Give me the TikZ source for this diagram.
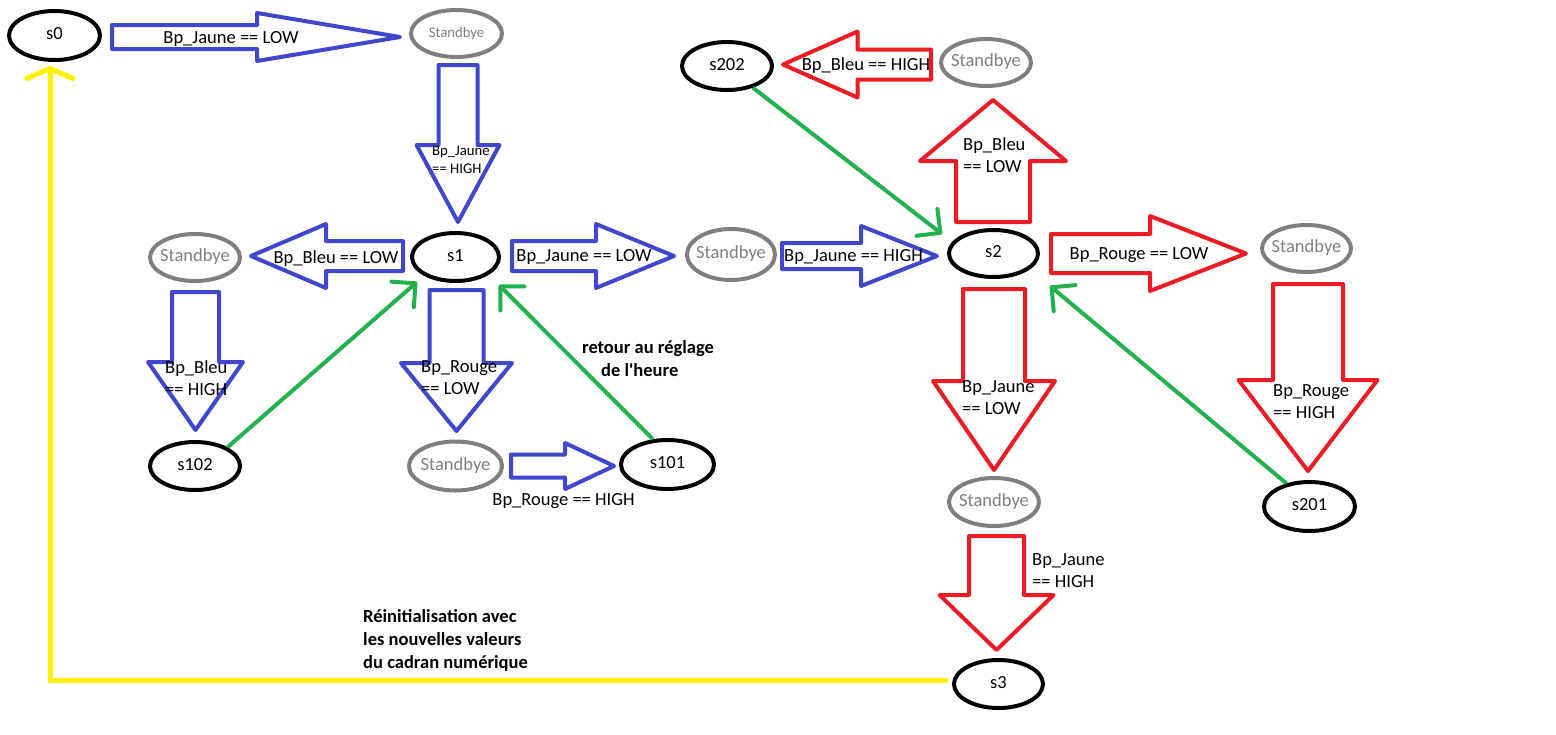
\documentclass[tikz,border=0pt]{standalone}
\usepackage{fontspec}
\setmainfont{Carlito}
\usetikzlibrary{shapes.geometric,arrows.meta}

\definecolor{ink}{HTML}{3F48CC}
\definecolor{alarm}{HTML}{ED1C24}
\definecolor{leaf}{HTML}{22B14C}
\definecolor{sun}{HTML}{FFF200}
\definecolor{ash}{HTML}{7F7F7F}

\newcommand\fsNormal{\fontsize{18.5}{22.5}\selectfont}
\newcommand\fsSmall{\fontsize{14.7}{18}\selectfont}
\newcommand\fsBold{\fontsize{18.5}{23}\selectfont\bfseries}
% state text that does not widen its ellipse
\newcommand\ctr[1]{\makebox[0pt]{#1}}

% horizontal block arrow: style, tail x, head base x, tip x, axis y, body half width, head half width
\newcommand\harrow[7]{\draw[#1] (#2,{#5-#6}) -- (#3,{#5-#6}) -- (#3,{#5-#7}) -- (#4,#5)
  -- (#3,{#5+#7}) -- (#3,{#5+#6}) -- (#2,{#5+#6}) -- cycle;}
% vertical block arrow: style, tail y, head base y, tip y, axis x, body half width, head half width
\newcommand\varrow[7]{\draw[#1] ({#5-#6},#2) -- ({#5-#6},#3) -- ({#5-#7},#3) -- (#5,#4)
  -- ({#5+#7},#3) -- ({#5+#6},#3) -- ({#5+#6},#2) -- cycle;}

\begin{document}
\begin{tikzpicture}[x=1pt,y=-1pt,
  state/.style={ellipse, draw=black, line width=4pt, inner sep=0pt,
    text height=0.8em, text depth=0pt, font=\fsNormal},
  idle/.style={state, draw=ash, text=ash},
  pblock/.style={draw=ink, line width=4pt, line join=round},
  rblock/.style={draw=alarm, line width=4pt, line join=round},
  lbl/.style={inner sep=0pt, anchor=base, font=\fsNormal},
  lbltwo/.style={inner sep=0pt, anchor=north west, align=left, font=\fsNormal},
  note/.style={inner sep=0pt, anchor=north west, align=left, font=\fsBold},
  link/.style={draw=leaf, line width=4pt, -{Straight Barb[length=17pt,width=34pt,round]}},
  back/.style={draw=sun, line width=5pt, -{Straight Barb[length=10pt,width=46pt,round]}}]
\useasboundingbox (0,0) rectangle (1556,734);

% states
\node[state, minimum width=91pt, minimum height=49pt] (s0) at (54.5,35.5) {\ctr{s0}};
\node[state, minimum width=87pt, minimum height=48pt] (s1) at (455.5,257) {\ctr{s1}};
\node[state, minimum width=89pt, minimum height=47pt] (s2) at (993.5,253.5) {\ctr{s2}};
\node[state, minimum width=89pt, minimum height=48pt] (s3) at (998.5,684) {\ctr{s3}};
\node[state, minimum width=90pt, minimum height=48pt] (s102) at (195,466) {\ctr{s102}};
\node[state, minimum width=93pt, minimum height=49pt] (s101) at (667.5,464.5) {\ctr{s101}};
\node[state, minimum width=90pt, minimum height=48pt] (s202) at (727,66) {\ctr{s202}};
\node[state, minimum width=91pt, minimum height=49pt] (s201) at (1309.5,506.5) {\ctr{s201}};

% waiting states
\node[idle, font=\fsSmall, minimum width=91pt, minimum height=47pt] (w0) at (456.5,33.5) {\ctr{Standbye}};
\node[idle, minimum width=90pt, minimum height=47pt] (w1l) at (195,257.5) {\ctr{Standbye}};
\node[idle, minimum width=88pt, minimum height=51pt] (w1r) at (731,254.5) {\ctr{Standbye}};
\node[idle, minimum width=93pt, minimum height=49pt] (w1d) at (455.5,466) {\ctr{Standbye}};
\node[idle, minimum width=90pt, minimum height=47pt] (w2u) at (986,62.5) {\ctr{Standbye}};
\node[idle, minimum width=89pt, minimum height=47pt] (w2r) at (1306.5,248.5) {\ctr{Standbye}};
\node[idle, minimum width=90pt, minimum height=48pt] (w2d) at (994,502) {\ctr{Standbye}};

% block arrows, blue group
\harrow{pblock}{112}{257}{400}{37}{12}{24}
\varrow{pblock}{65}{145}{222}{458}{19.5}{41.5}
\harrow{pblock}{403}{326}{251}{256}{15}{32}
\harrow{pblock}{512}{596}{674}{256}{15}{32}
\harrow{pblock}{782}{861}{937}{256}{13}{30}
\varrow{pblock}{292}{362}{430}{195.5}{23.5}{47.5}
\varrow{pblock}{290}{363}{431}{456.5}{27}{55.5}
\harrow{pblock}{511}{565}{614}{466}{11.5}{23}

% block arrows, red group
\harrow{rblock}{931}{857.5}{783}{64.5}{15}{33}
\varrow{rblock}{222}{161}{100}{993}{37}{73}
\harrow{rblock}{1051}{1150}{1246}{253.5}{19.5}{37.5}
\varrow{rblock}{289}{381}{470}{994}{31}{61}
\varrow{rblock}{536}{595}{650}{996.5}{27.5}{57}
\varrow{rblock}{284}{380}{471}{1308}{35}{69.5}

% conditions
\node[lbl] (c1) at (231,43) {Bp\_Jaune == LOW};
\node[lbl] (c2) at (336,263) {Bp\_Bleu == LOW};
\node[lbl] (c3) at (584,261) {Bp\_Jaune == LOW};
\node[lbl] (c4) at (853.5,261) {Bp\_Jaune == HIGH};
\node[lbl] (c5) at (1139,259) {Bp\_Rouge == LOW};
\node[lbl] (c6) at (866,70) {Bp\_Bleu == HIGH};
\node[lbl] (c7) at (563.5,505) {Bp\_Rouge == HIGH};
\node[lbltwo, font=\fsSmall] (d1) at (432,146) {Bp\_Jaune\\== HIGH};
\node[lbltwo] (d2) at (165,360) {Bp\_Bleu\\== HIGH};
\node[lbltwo] (d3) at (421,360) {Bp\_Rouge\\== LOW};
\node[lbltwo] (d4) at (963,137) {Bp\_Bleu\\== LOW};
\node[lbltwo] (d5) at (962,380) {Bp\_Jaune\\== LOW};
\node[lbltwo] (d6) at (1032,553) {Bp\_Jaune\\== HIGH};
\node[lbltwo] (d7) at (1273,384) {Bp\_Rouge\\== HIGH};

% return links
\coordinate (t102) at (417,282);
\coordinate (t101) at (499,285);
\coordinate (t202) at (942,234);
\coordinate (t201) at (1050,286);
\draw[link] (s102.30) -- (t102);
\draw[link] (s101.120) -- (t101);
\draw[link] (s202.-40) -- (t202);
\draw[link] (s201.135) -- (t201);

% restart link
\coordinate (t0) at (50,66);
\draw[back] ([shift={(-4pt,4pt)}]s3.west) -| (t0);

% notes
\node[note] (n1) at (582,340) {retour au réglage\\\hspace*{19pt}de l\textquotesingle{}heure};
\node[note] (n2) at (363,609) {Réinitialisation avec\\les nouvelles valeurs\\du cadran numérique};
\end{tikzpicture}
\end{document}
